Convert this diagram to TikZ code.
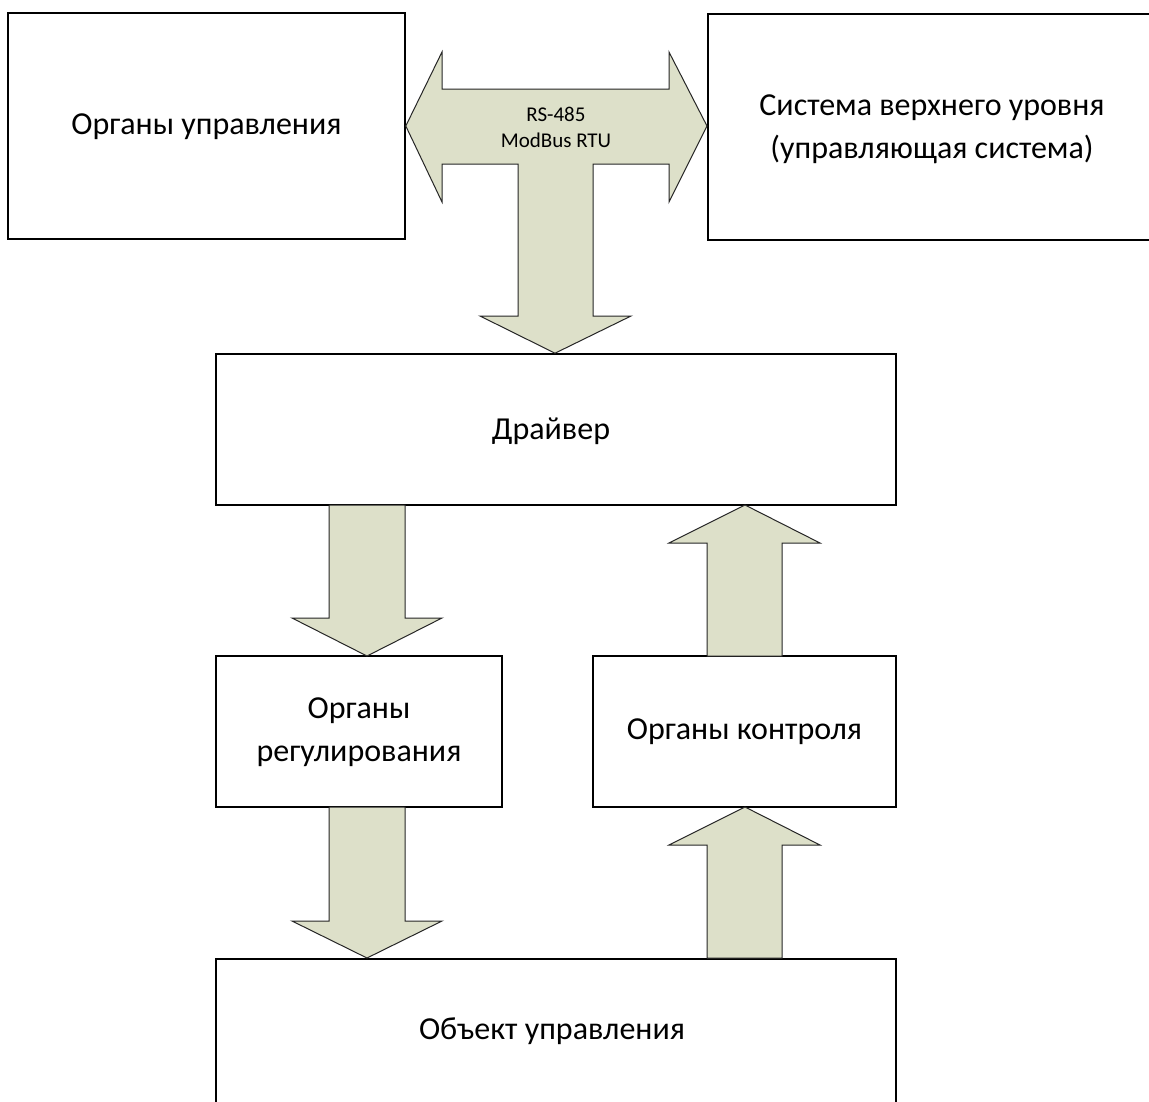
\documentclass[tikz,border=0pt]{standalone}
\usepackage{fontspec}
\setmainfont{Carlito}
\definecolor{arrowfill}{RGB}{221,224,201}
\begin{document}
\begin{tikzpicture}[x=1pt,y=-1pt,
  box/.style={draw=black,line width=1.6pt,fill=white,inner sep=0pt},
  lbl/.style={align=center,font=\fontsize{32}{43}\selectfont,inner sep=0pt},
  small/.style={align=center,font=\fontsize{21}{26}\selectfont,inner sep=0pt},
  blockarrow/.style={fill=arrowfill,draw=black!85,line width=1pt,line join=miter}]
\useasboundingbox (0,0) rectangle (1149,1101);
\clip (0,0) rectangle (1149,1101);
\fill[white] (0,0) rectangle (1149,1101);
% boxes
\node[box,minimum width=397pt,minimum height=226pt] (ou) at (206.5,126) {};
\node[box,minimum width=460pt,minimum height=226pt,anchor=north west] (sys) at (707,13) {};
\node[box,minimum width=680pt,minimum height=151pt] (drv) at (556,429.5) {};
\node[box,minimum width=286pt,minimum height=151pt] (reg) at (359,731.5) {};
\node[box,minimum width=303pt,minimum height=151pt] (kon) at (744.5,731.5) {};
\node[box,minimum width=680pt,minimum height=150pt,anchor=north] (obj) at (556,958) {};
% texts
\node[lbl] (tou) at (206.5,127) {Органы управления};
\node[lbl] (tsys) at (932,129) {Система верхнего уровня\\(управляющая система)};
\node[lbl] (tdrv) at (551,431) {Драйвер};
\node[lbl] (treg) at (359,732) {Органы\\регулирования};
\node[lbl] (tkon) at (744.5,732) {Органы контроля};
\node[lbl] (tobj) at (552,1031) {Объект управления};
% T-shaped bus arrow
\draw[blockarrow] (ou.east |- 0,126) -- (442,52) -- (442,89) -- (669,89) -- (669,52)
  -- (sys.west |- 0,126) -- (669,202) -- (669,164) -- (593,164) -- (593,316) -- (631,316)
  -- (drv.north -| 555,0) -- (480,316) -- (518,316) -- (518,164) -- (442,164) -- (442,202) -- cycle;
\node[small] (bus) at (556,127) {RS-485\\ModBus RTU};
% driver -> regulation
\draw[blockarrow] (329,505) -- (405,505) -- (405,618) -- (442,618) -- (367,656)
  -- (292,618) -- (329,618) -- cycle;
% regulation -> object
\draw[blockarrow] (329,807) -- (405,807) -- (405,921) -- (442,921) -- (367,958)
  -- (292,921) -- (329,921) -- cycle;
% control -> driver
\draw[blockarrow] (707,656) -- (782,656) -- (782,543) -- (820,543) -- (745,505)
  -- (669,543) -- (707,543) -- cycle;
% object -> control
\draw[blockarrow] (707,958) -- (782,958) -- (782,845) -- (820,845) -- (745,807)
  -- (669,845) -- (707,845) -- cycle;
\end{tikzpicture}
\end{document}
